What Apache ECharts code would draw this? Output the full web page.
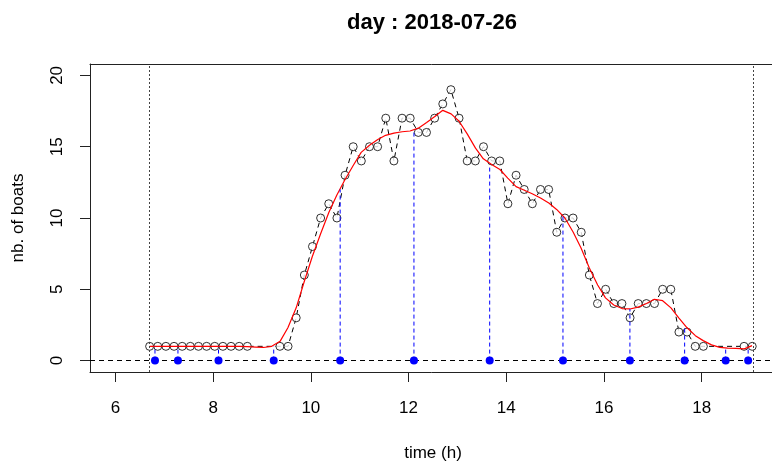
<!DOCTYPE html>
<html>
<head>
<meta charset="utf-8">
<script src="https://cdn.jsdelivr.net/npm/echarts@6/dist/echarts.min.js"></script>
<style>
html,body{margin:0;padding:0;background:#fff;}
#chart{width:772px;height:461px;}
</style>
</head>
<body>
<div id="chart"></div>
<script>
// observed counts (time "HH:MM", number of boats)
const obsTimes = ['6:42','6:52','7:02','7:12','7:22','7:32','7:42','7:52','8:02','8:12','8:22','8:32','8:42',
  '9:22','9:32','9:42','9:52','10:02','10:12','10:22','10:32','10:42','10:52','11:02','11:12','11:22','11:32',
  '11:42','11:52','12:02','12:12','12:22','12:32','12:42','12:52','13:02','13:12','13:22','13:32','13:42','13:52',
  '14:02','14:12','14:22','14:32','14:42','14:52','15:02','15:12','15:22','15:32','15:42','15:52','16:02','16:12',
  '16:22','16:32','16:42','16:52','17:02','17:12','17:22','17:32','17:42','17:52','18:02','18:52','19:02'];
const obsBoats = [1,1,1,1,1,1,1,1,1,1,1,1,1,
  1,1,3,6,8,10,11,10,13,15,14,15,15,17,
  14,17,17,16,16,17,18,19,17,14,14,15,14,14,
  11,13,12,11,12,12,9,10,10,9,6,4,5,4,
  4,3,4,4,4,5,5,2,2,1,1,1,1];

// smoothed curve (red)
const smoothTimes = [6.70,6.87,7.03,7.20,7.37,7.53,7.70,7.87,8.03,8.20,8.37,8.53,8.70,8.87,9.03,9.20,9.37,9.53,9.70,9.87,
  10.03,10.20,10.37,10.53,10.70,10.87,11.03,11.20,11.37,11.53,11.70,11.87,12.03,12.20,12.37,12.53,12.70,12.87,
  13.03,13.20,13.37,13.53,13.70,13.87,14.03,14.20,14.37,14.53,14.70,14.87,15.03,15.20,15.37,15.53,15.70,15.87,
  16.03,16.20,16.37,16.53,16.70,16.87,17.03,17.20,17.37,17.53,17.70,17.87,18.03,18.20,18.37,18.53,18.70,18.87,19.03];
const smoothValues = [1.0,1.0,1.0,1.0,1.0,1.0,1.0,1.0,1.0,1.0,1.0,1.0,0.98,0.95,0.92,1.0,1.35,2.3,3.7,5.6,
  7.3,8.9,10.4,11.6,12.7,13.7,14.6,15.1,15.5,15.8,15.95,16.05,16.1,16.3,16.7,17.1,17.55,17.3,
  16.8,15.9,14.9,14.15,13.75,13.4,12.8,12.2,11.95,11.7,11.4,11.05,10.6,10.0,9.0,7.9,6.5,5.3,
  4.4,3.9,3.65,3.62,3.75,4.0,4.3,4.2,3.7,3.0,2.3,1.75,1.4,1.1,0.93,0.88,0.85,0.82,1.05];

// blue markers (time) and height of their dashed segment
const markTimes = [6.81,7.28,8.11,9.24,10.60,12.11,13.66,15.16,16.53,17.65,18.49,18.95];
const markHeights = [1.0,1.0,1.0,1.0,12.0,16.1,13.7,10.1,3.62,2.4,0.9,0.85];

// vertical dotted limits
const limitTimes = [6.70,19.05];

const xTicks = [6,8,10,12,14,16,18];
const yTicks = [0,5,10,15,20];

const titleText = 'day : 2018-07-26';
const xName = 'time (h)';
const yName = 'nb. of boats';

function toHours(s){ const p = s.split(':'); return (+p[0]) + (+p[1])/60; }

const FONT = '"Liberation Sans", Arial, sans-serif';
const chart = echarts.init(document.getElementById('chart'));

const XMIN = 5.48, XMAX = 19.52, YMIN = -0.8, YMAX = 20.8;
const BOX = '#222';

const obsData = obsTimes.map((t,i)=>[toHours(t), obsBoats[i]]);
const smoothData = smoothTimes.map((t,i)=>[t, smoothValues[i]]);
const markData = markTimes.map(t=>[t,0]);

const segSeries = markTimes.map((t,i)=>({
  type:'line', data:[[t,0],[t,markHeights[i]]], symbol:'none', showSymbol:false,
  lineStyle:{color:'#0000ff', width:1, type:[4,3]}, silent:true, z:4
}));

chart.setOption({
  animation:false,
  backgroundColor:'#fff',
  title:{
    text:titleText, left:342, top:7,
    textStyle:{fontFamily:FONT, fontSize:22, fontWeight:'bold', color:'#000'}
  },
  grid:{left:90, top:64, width:686, height:308, show:false, outerBoundsMode:'none', containLabel:false},
  xAxis:[{
    type:'value', min:XMIN, max:XMAX,
    name:xName, nameLocation:'middle', nameGap:73,
    nameTextStyle:{fontFamily:FONT, fontSize:17, color:'#000'},
    axisLine:{show:true, onZero:false, lineStyle:{color:BOX, width:1}},
    axisTick:{show:true, inside:false, length:10, customValues:xTicks, lineStyle:{color:BOX}},
    axisLabel:{show:true, margin:28, customValues:xTicks, fontFamily:FONT, fontSize:17, color:'#000'},
    splitLine:{show:false}
  },{
    type:'value', min:XMIN, max:XMAX, position:'top',
    axisLine:{show:true, onZero:false, lineStyle:{color:BOX, width:1}},
    axisTick:{show:false}, axisLabel:{show:false}, splitLine:{show:false}
  }],
  yAxis:{
    type:'value', min:YMIN, max:YMAX,
    name:yName, nameLocation:'middle', nameGap:63,
    nameTextStyle:{fontFamily:FONT, fontSize:17, color:'#000'},
    axisLine:{show:true, onZero:false, lineStyle:{color:BOX, width:1}},
    axisTick:{show:true, inside:false, length:10, customValues:yTicks, lineStyle:{color:BOX}},
    axisLabel:{show:true, margin:24, rotate:90, customValues:yTicks, fontFamily:FONT, fontSize:17, color:'#000'},
    splitLine:{show:false}
  },
  series:[
    {
      type:'line', data:obsData, symbol:'none', showSymbol:false,
      lineStyle:{color:'#000', width:1, type:[5,4]},
      silent:true, z:1,
      markLine:{
        silent:true, symbol:['none','none'], label:{show:false},
        data:[
          {yAxis:0, lineStyle:{color:'#000', width:1, type:[5,4]}},
          {xAxis:limitTimes[0], lineStyle:{color:'#444', width:1, type:[2,2]}},
          {xAxis:limitTimes[1], lineStyle:{color:'#444', width:1, type:[2,2]}}
        ]
      }
    },
    {
      type:'scatter', data:obsData, symbol:'circle', symbolSize:8,
      itemStyle:{color:'#fff', borderColor:'#000', borderWidth:1},
      silent:true, z:2
    },
    {
      type:'line', data:smoothData, showSymbol:false, symbol:'none',
      lineStyle:{color:'#ff0000', width:1.2}, silent:true, z:3
    },
    ...segSeries,
    {
      type:'scatter', data:markData, symbol:'circle', symbolSize:8,
      itemStyle:{color:'#0000ff', opacity:1}, silent:true, z:5
    }
  ]
});
</script>
</body>
</html>
